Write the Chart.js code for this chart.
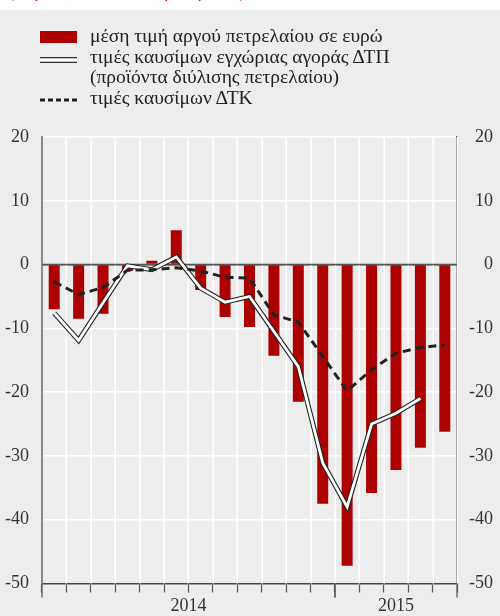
<!DOCTYPE html>
<html>
<head>
<meta charset="utf-8">
<script src="https://cdn.jsdelivr.net/npm/chart.js@4.4.0/dist/chart.umd.min.js"></script>
<style>
  body { margin: 0; background: #ededed; font-family: 'Liberation Serif', serif; }
  #wrap { position: relative; width: 500px; height: 616px; overflow: hidden; }
  #topstrip { position: absolute; left: 0; top: 0; width: 500px; height: 10px; background: #fff; overflow: hidden; z-index: 2; }
  #topstrip span { position: absolute; left: 8px; top: -19px; color: #c00000; font-size: 18px; white-space: nowrap; }
  #chart { position: absolute; left: 0; top: 0; }
  #legend { position: absolute; left: 40px; top: 26px; font-size: 19.5px; color: #222; line-height: 20.5px; z-index: 2; white-space: nowrap; }
  .row { position: relative; padding-left: 50px; }
  .row svg { position: absolute; left: 0; }
</style>
</head>
<body>
<div id="wrap">
  <div id="topstrip"><span>(ετήσιες ποσοστιαίες μεταβολές)</span></div>
  <canvas id="chart" width="500" height="616"></canvas>
  <div id="legend">
    <div class="row"><svg width="37" height="12" style="top:5px"><rect width="37" height="12" fill="#ad0000"/></svg>μέση τιμή αργού πετρελαίου σε ευρώ</div>
    <div class="row"><svg width="37" height="6" style="top:10px"><rect y="0" width="37" height="6" fill="#333"/><rect y="1.3" width="37" height="3.4" fill="#fff"/></svg>τιμές καυσίμων εγχώριας αγοράς ΔΤΠ</div>
    <div class="row">(προϊόντα διύλισης πετρελαίου)</div>
    <div class="row"><svg width="37" height="4" style="top:10px"><line x1="0" y1="2" x2="37" y2="2" stroke="#222" stroke-width="3" stroke-dasharray="5,3"/></svg>τιμές καυσίμων ΔΤΚ</div>
  </div>
</div>
<script>
    "use strict";

    // Months Jan 2014 - May 2015
    var months = ['01/14', '02/14', '03/14', '04/14', '05/14', '06/14', '07/14', '08/14', '09/14',
                  '10/14', '11/14', '12/14', '01/15', '02/15', '03/15', '04/15', '05/15'];
    var years = ['2014', '2015'];
    var yTicks = [-50, -40, -30, -20, -10, 0, 10, 20];

    // μέση τιμή αργού πετρελαίου σε ευρώ
    var crudeOil = [-7.0, -8.5, -7.7, -1.0, 0.6, 5.4, -4.0, -8.2, -9.8, -14.3, -21.5, -37.5, -47.2, -35.8, -32.2, -28.7, -26.2];
    // τιμές καυσίμων εγχώριας αγοράς ΔΤΠ
    var domesticFuel = [-7.6, -11.9, -6.0, -0.2, -0.8, 1.2, -3.7, -5.9, -5.0, -10.5, -16.0, -31.1, -38.0, -25.0, -23.3, -21.0, null];
    // τιμές καυσίμων ΔΤΚ
    var consumerFuel = [-2.7, -4.7, -3.6, -0.9, -0.8, -0.5, -1.0, -2.0, -2.1, -7.9, -9.0, -14.4, -19.8, -16.5, -13.9, -13.0, -12.6];

    var monthYear = months.map(function (m) { return '20' + m.slice(3); });

    Chart.defaults.font.family = "'Liberation Serif', serif";
    Chart.defaults.font.size = 18;
    Chart.defaults.color = '#333';

    // Vertical white grid lines at month boundaries
    var monthGrid = {
        id: 'monthGrid',
        beforeDatasetsDraw: function (chart) {
            var x = chart.scales.x, a = chart.chartArea, ctx = chart.ctx;
            var step = x.getPixelForValue(1) - x.getPixelForValue(0);
            ctx.save();
            ctx.strokeStyle = '#fff';
            ctx.lineWidth = 1.5;
            for (var i = 0; i <= months.length; i++) {
                var p = Math.round(x.getPixelForValue(0) - step / 2 + i * step) + 0.25;
                if (i === 0) continue;
                ctx.beginPath();
                ctx.moveTo(p, a.top);
                ctx.lineTo(p, a.bottom);
                ctx.stroke();
            }
            // keep zero line on top of the vertical grid
            var y0 = chart.scales.y.getPixelForValue(0);
            ctx.strokeStyle = '#555';
            ctx.beginPath();
            ctx.moveTo(a.left, y0);
            ctx.lineTo(a.right, y0);
            ctx.stroke();
            ctx.restore();
        }
    };

    // Year labels + long ticks at year boundaries
    var yearAxis = {
        id: 'yearAxis',
        afterDraw: function (chart) {
            var x = chart.scales.x, ctx = chart.ctx;
            var step = x.getPixelForValue(1) - x.getPixelForValue(0);
            ctx.save();
            ctx.font = "18px 'Liberation Serif', serif";
            ctx.fillStyle = '#333';
            ctx.textAlign = 'center';
            ctx.textBaseline = 'middle';
            ctx.strokeStyle = '#555';
            ctx.lineWidth = 1.2;
            years.forEach(function (y) {
                var idx = [];
                monthYear.forEach(function (v, i) { if (v === y) idx.push(i); });
                var left = x.getPixelForValue(idx[0]) - step / 2;
                var right = x.getPixelForValue(idx[idx.length - 1]) + step / 2;
                ctx.fillText(y, (left + right) / 2, x.top + 23);
                [left, right].forEach(function (p) {
                    ctx.beginPath();
                    ctx.moveTo(p, x.top);
                    ctx.lineTo(p, x.top + 14);
                    ctx.stroke();
                });
            });
            ctx.restore();
        }
    };

    var ctx = document.getElementById('chart').getContext('2d');
    var myChart = new Chart(ctx, {
        type: 'bar',
        data: {
            labels: months,
            datasets: [{
                type: 'bar',
                label: 'μέση τιμή αργού πετρελαίου σε ευρώ',
                data: crudeOil,
                backgroundColor: '#ad0000',
                barPercentage: 0.45,
                categoryPercentage: 1,
                order: 4
            }, {
                type: 'line',
                label: 'ΔΤΠ outline',
                data: domesticFuel,
                borderColor: '#222',
                borderWidth: 5,
                borderJoinStyle: 'miter',
                pointRadius: 0,
                tension: 0,
                order: 3
            }, {
                type: 'line',
                label: 'τιμές καυσίμων εγχώριας αγοράς ΔΤΠ',
                data: domesticFuel,
                borderColor: '#fff',
                borderWidth: 2.8,
                borderJoinStyle: 'miter',
                pointRadius: 0,
                tension: 0,
                order: 2
            }, {
                type: 'line',
                label: 'τιμές καυσίμων ΔΤΚ',
                data: consumerFuel,
                borderColor: '#222',
                borderWidth: 3,
                borderDash: [8, 5],
                pointRadius: 0,
                tension: 0,
                order: 1
            }]
        },
        options: {
            responsive: false,
            animation: false,
            layout: { padding: { top: 137, right: 7, left: 0, bottom: 0 } },
            plugins: { legend: { display: false }, tooltip: { enabled: false } },
            scales: {
                x: {
                    offset: true,
                    grid: { offset: true, drawOnChartArea: false, color: '#fff', tickColor: '#555', tickLength: 9, tickWidth: 1.2 },
                    border: { color: '#444', width: 1.5 },
                    ticks: { callback: function () { return ''; } },
                    afterFit: function (s) { s.height = 32.5; }
                },
                y: {
                    position: 'left',
                    min: -50, max: 20,
                    afterBuildTicks: function (s) { s.ticks = yTicks.map(function (v) { return { value: v }; }); },
                    grid: {
                        drawTicks: false,
                        color: function (c) { return c.tick && c.tick.value === 0 ? '#555' : '#fff'; },
                        lineWidth: 1.5
                    },
                    border: { color: '#888', width: 2 },
                    ticks: { padding: 13, color: '#333' },
                    afterFit: function (s) { s.width = 42; }
                },
                y2: {
                    position: 'right',
                    min: -50, max: 20,
                    afterBuildTicks: function (s) { s.ticks = yTicks.map(function (v) { return { value: v }; }); },
                    grid: { drawOnChartArea: false, drawTicks: false },
                    border: { color: '#555', width: 1.2 },
                    ticks: { crossAlign: 'far', padding: 0, color: '#333' },
                    afterFit: function (s) { s.width = 36; }
                }
            }
        },
        plugins: [monthGrid, yearAxis]
    });
</script>
</body>
</html>
